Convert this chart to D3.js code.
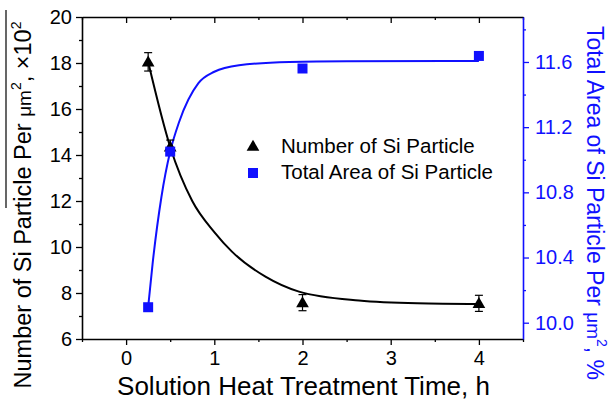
<!DOCTYPE html>
<html>
<head>
<meta charset="utf-8">
<script src="https://cdn.jsdelivr.net/npm/d3@7"></script>
<style>
  html, body { margin: 0; padding: 0; background: #fff; }
  svg { display: block; font-family: "Liberation Sans", Arial, sans-serif; }
</style>
</head>
<body>
<svg id="chart" width="609" height="414"></svg>
<script>
// ---- data ----
const hours = [0.25, 0.5, 2, 4];
const particleNumber = [18.05, 14.35, 7.58, 7.55];
const particleNumberErr = [0.4, 0.3, 0.35, 0.35];
const totalArea = [10.095, 11.05, 11.56, 11.637];

// fitted curves
const numberFitX = [0.25, 0.5, 0.75, 1.0, 1.2, 1.58, 1.96, 2.64, 3.3, 4.0];
const numberFitY = [18.05, 14.35, 12.0, 10.65, 9.8, 8.71, 8.06, 7.67, 7.55, 7.52];
const areaFitX = [0.25, 0.3, 0.4, 0.5, 0.6, 0.82, 1.0, 1.28, 1.85, 2.5, 4.0];
const areaFitY = [10.095, 10.36, 10.77, 11.05, 11.23, 11.47, 11.54, 11.58, 11.6, 11.605, 11.606];

const xTicks = [0, 1, 2, 3, 4];
const xMinor = [-0.5, 0.5, 1.5, 2.5, 3.5, 4.5];
const yLTicks = [6, 8, 10, 12, 14, 16, 18, 20];
const yLMinor = [7, 9, 11, 13, 15, 17, 19];
const yRTicks = [10.0, 10.4, 10.8, 11.2, 11.6];
const yRMinor = [10.2, 10.6, 11.0, 11.4, 11.8];

const legendLabels = ["Number of Si Particle", "Total Area of Si Particle"];
const xTitle = "Solution Heat Treatment Time, h";

// ---- layout ----
const BLUE = "#1010ff";
const L = 82, R = 523, T = 17, B = 339;
const svg = d3.select("#chart");

const x = d3.scaleLinear().domain([-0.5, 4.5]).range([L, R]);
const yL = d3.scaleLinear().domain([6, 20]).range([B, T]);
const yR = d3.scaleLinear().domain([9.9, 11.876]).range([B, T]);

const tickFont = 20;

function styleAxis(g, color) {
  g.selectAll("path").attr("stroke", color).attr("stroke-width", 1.6);
  g.selectAll("line").attr("stroke", color).attr("stroke-width", 1.3);
  g.selectAll("text").attr("fill", color).attr("font-size", tickFont)
    .attr("font-family", "Liberation Sans, Arial, sans-serif");
}
function minorStyle(color) {
  return g => { g.select("path").remove(); g.selectAll("line").attr("stroke", color).attr("stroke-width", 1.3); };
}

// bottom axis
const gx = svg.append("g").attr("transform", `translate(0,${B})`)
  .call(d3.axisBottom(x).tickValues(xTicks).tickFormat(d3.format("d")).tickSize(6).tickSizeOuter(0).tickPadding(6));
styleAxis(gx, "#000");
svg.append("g").attr("transform", `translate(0,${B})`)
  .call(d3.axisBottom(x).tickValues(xMinor).tickFormat("").tickSize(3).tickSizeOuter(0))
  .call(minorStyle("#000"));

// top axis (ticks pointing inward)
const gt = svg.append("g").attr("transform", `translate(0,${T})`)
  .call(d3.axisBottom(x).tickValues(xTicks).tickFormat("").tickSize(6).tickSizeOuter(0));
styleAxis(gt, "#000");
svg.append("g").attr("transform", `translate(0,${T})`)
  .call(d3.axisBottom(x).tickValues(xMinor).tickFormat("").tickSize(3).tickSizeOuter(0))
  .call(minorStyle("#000"));

// left axis
const gyl = svg.append("g").attr("transform", `translate(${L},0)`)
  .call(d3.axisLeft(yL).tickValues(yLTicks).tickFormat(d3.format("d")).tickSize(6).tickSizeOuter(0).tickPadding(4));
styleAxis(gyl, "#000");
svg.append("g").attr("transform", `translate(${L},0)`)
  .call(d3.axisLeft(yL).tickValues(yLMinor).tickFormat("").tickSize(3).tickSizeOuter(0))
  .call(minorStyle("#000"));

// right axis
const gyr = svg.append("g").attr("transform", `translate(${R},0)`)
  .call(d3.axisRight(yR).tickValues(yRTicks).tickFormat(d3.format(".1f")).tickSize(6).tickSizeOuter(0).tickPadding(6));
styleAxis(gyr, BLUE);
svg.append("g").attr("transform", `translate(${R},0)`)
  .call(d3.axisRight(yR).tickValues(yRMinor).tickFormat("").tickSize(3).tickSizeOuter(0))
  .call(minorStyle(BLUE));

// ---- curves ----
const lineNum = d3.line().x(d => x(d[0])).y(d => yL(d[1])).curve(d3.curveMonotoneX);
const lineArea = d3.line().x(d => x(d[0])).y(d => yR(d[1])).curve(d3.curveMonotoneX);

svg.append("path").datum(numberFitX.map((v, i) => [v, numberFitY[i]]))
  .attr("d", lineNum).attr("fill", "none").attr("stroke", "#000").attr("stroke-width", 2);
svg.append("path").datum(areaFitX.map((v, i) => [v, areaFitY[i]]))
  .attr("d", lineArea).attr("fill", "none").attr("stroke", BLUE).attr("stroke-width", 2);

// error bars (number)
const eb = svg.append("g").attr("stroke", "#000").attr("stroke-width", 1.2);
hours.forEach((h, i) => {
  const cx = x(h), y1 = yL(particleNumber[i] + particleNumberErr[i]), y2 = yL(particleNumber[i] - particleNumberErr[i]);
  eb.append("line").attr("x1", cx).attr("x2", cx).attr("y1", y1).attr("y2", y2);
  eb.append("line").attr("x1", cx - 4).attr("x2", cx + 4).attr("y1", y1).attr("y2", y1);
  eb.append("line").attr("x1", cx - 4).attr("x2", cx + 4).attr("y1", y2).attr("y2", y2);
});

// markers
const tri = d3.symbol().type(d3.symbolTriangle).size(70);
svg.append("g").selectAll("path").data(hours).join("path")
  .attr("d", tri).attr("transform", (d, i) => `translate(${x(d)},${yL(particleNumber[i]) + 1})`)
  .attr("fill", "#000");
const sq = 10;
svg.append("g").selectAll("rect").data(hours).join("rect")
  .attr("x", d => x(d) - sq / 2).attr("y", (d, i) => yR(totalArea[i]) - sq / 2)
  .attr("width", sq).attr("height", sq).attr("fill", BLUE);

// ---- legend ----
const lg = svg.append("g").attr("font-size", 20.5).attr("fill", "#000");
lg.append("path").attr("d", tri).attr("transform", "translate(253,147)").attr("fill", "#000");
lg.append("text").attr("x", 281).attr("y", 153).text(legendLabels[0]);
lg.append("rect").attr("x", 248).attr("y", 168).attr("width", sq).attr("height", sq).attr("fill", BLUE);
lg.append("text").attr("x", 281).attr("y", 179).text(legendLabels[1]);

// ---- titles ----
svg.append("text").attr("x", (L + R) / 2 + 1).attr("y", 395).attr("text-anchor", "middle")
  .attr("font-size", 26).attr("fill", "#000").text(xTitle);

const lt = svg.append("text").attr("transform", "translate(31,205) rotate(-90)")
  .attr("text-anchor", "middle").attr("font-size", 23.5).attr("fill", "#000");
lt.append("tspan").text("Number of Si Particle Per ");
lt.append("tspan").attr("font-size", 19).text("μm");
lt.append("tspan").attr("font-size", 14).attr("dy", -10).text("2");
lt.append("tspan").attr("dy", 10).text(", ×10");
lt.append("tspan").attr("font-size", 14).attr("dy", -10).text("2");
// overline above part of the left title
svg.append("line").attr("x1", 6).attr("x2", 6).attr("y1", 10).attr("y2", 208)
  .attr("stroke", "#000").attr("stroke-width", 1.2);

const rt = svg.append("text").attr("transform", "translate(587,203) rotate(90)")
  .attr("text-anchor", "middle").attr("font-size", 23).attr("fill", BLUE);
rt.append("tspan").text("Total Area of Si Particle Per ");
rt.append("tspan").attr("font-size", 19).text("μm");
rt.append("tspan").attr("font-size", 14).attr("dy", -10).text("2");
rt.append("tspan").attr("dy", 10).text(", %");
</script>
</body>
</html>
